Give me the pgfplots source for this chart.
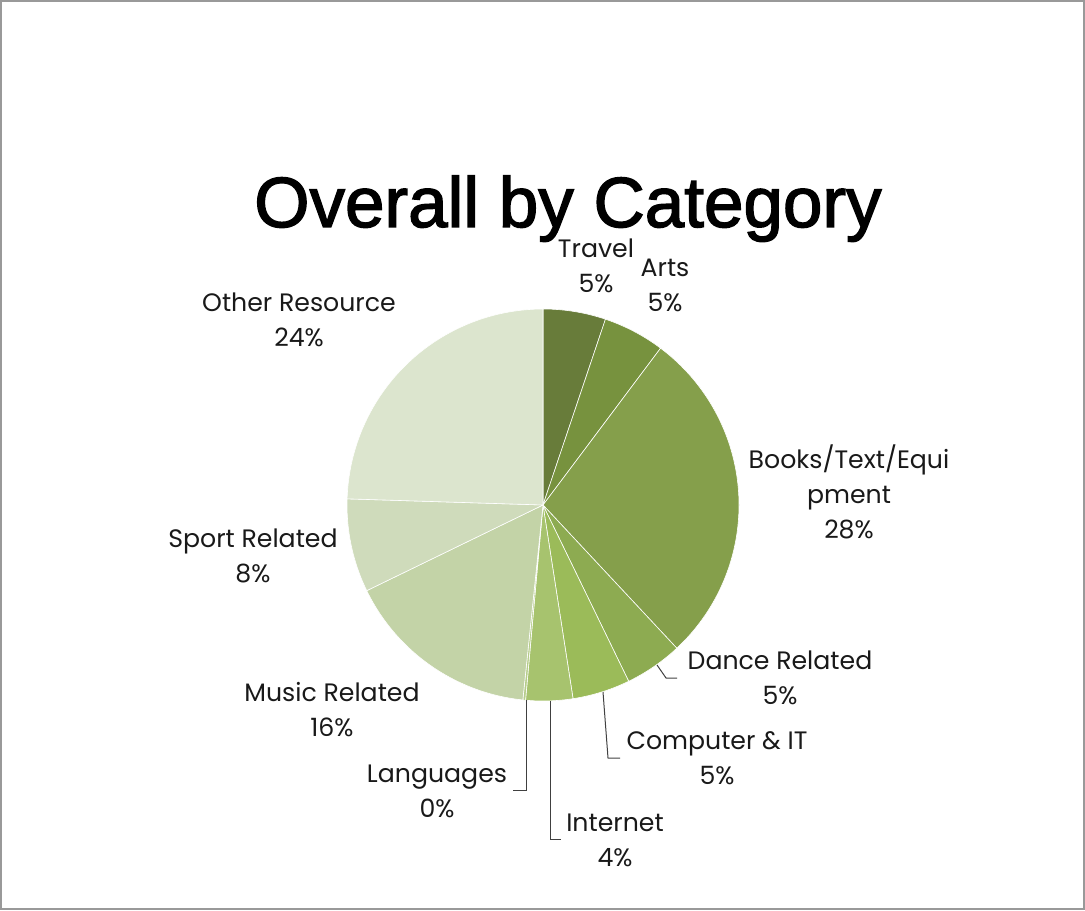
\documentclass[border=0pt]{standalone}
\usepackage{pgfplots}
\pgfplotsset{compat=1.18}
\usepackage{fontspec}
\setmainfont{Poppins}
\newfontfamily\titlefont[FakeBold=2]{Liberation Sans}
\definecolor{cTravel}{HTML}{687C3A}
\definecolor{cArts}{HTML}{77923E}
\definecolor{cBooks}{HTML}{859F4B}
\definecolor{cDance}{HTML}{8DAB51}
\definecolor{cComp}{HTML}{9BBB59}
\definecolor{cInt}{HTML}{A7C36E}
\definecolor{cLang}{HTML}{B5CC8A}
\definecolor{cMusic}{HTML}{C3D3A7}
\definecolor{cSport}{HTML}{CFDBBB}
\definecolor{cOther}{HTML}{DCE5CE}
\definecolor{leader}{HTML}{404040}
% shares of each category (percent)
\def\pTravel{5.16}\def\pArts{5.08}\def\pBooks{27.80}\def\pDance{4.76}
\def\pComp{4.75}\def\pInt{3.87}\def\pLang{0.22}\def\pMusic{16.16}
\def\pSport{7.70}\def\pOther{24.50}
\begin{document}
\begin{tikzpicture}
\useasboundingbox (0,0) rectangle (542.5pt,455pt);
\pgfmathsetmacro\cA{0}
\pgfmathsetmacro\cB{\cA+\pTravel}
\pgfmathsetmacro\cC{\cB+\pArts}
\pgfmathsetmacro\cD{\cC+\pBooks}
\pgfmathsetmacro\cE{\cD+\pDance}
\pgfmathsetmacro\cF{\cE+\pComp}
\pgfmathsetmacro\cG{\cF+\pInt}
\pgfmathsetmacro\cH{\cG+\pLang}
\pgfmathsetmacro\cI{\cH+\pMusic}
\pgfmathsetmacro\cJ{\cI+\pSport}
\pgfmathsetmacro\cK{\cJ+\pOther}
\newcommand\slice[3]{%
  \pgfmathsetmacro\aS{90-3.6*#2}\pgfmathsetmacro\aE{90-3.6*#1}%
  \addplot[fill=#3, draw=white, line width=0.3pt, domain=\aS:\aE, samples=80]
    ({196*cos(x)},{196*sin(x)}) -- (axis cs:0,0) -- cycle;}
\begin{axis}[hide axis, scale only axis, x=0.5pt, y=0.5pt,
  xmin=-543, xmax=542, ymin=-405, ymax=505,
  anchor=origin, at={(271.5pt,202.5pt)}, clip=false]
\slice{\cA}{\cB}{cTravel}
\slice{\cB}{\cC}{cArts}
\slice{\cC}{\cD}{cBooks}
\slice{\cD}{\cE}{cDance}
\slice{\cE}{\cF}{cComp}
\slice{\cF}{\cG}{cInt}
\slice{\cG}{\cH}{cLang}
\slice{\cH}{\cI}{cMusic}
\slice{\cI}{\cJ}{cSport}
\slice{\cJ}{\cK}{cOther}
% leader lines
\draw[leader, line width=0.5pt] (axis cs:114,-160) -- (axis cs:123,-173) -- (axis cs:134,-173);
\draw[leader, line width=0.5pt] (axis cs:60,-187) -- (axis cs:65,-253) -- (axis cs:77,-253);
\draw[leader, line width=0.5pt] (axis cs:7,-196) -- (axis cs:7,-334) -- (axis cs:18,-334);
\draw[leader, line width=0.5pt] (axis cs:-17,-195) -- (axis cs:-17,-285) -- (axis cs:-30,-285);
% title
\node[anchor=base, font=\titlefont\fontsize{35.5}{40}\selectfont] at (axis cs:25,278) {Overall by Category};
% labels
\tikzset{lab/.style={align=center, inner sep=0pt, font=\fontsize{12.6}{17.5}\selectfont, text=black!90}}
\node[lab] at (axis cs:53,239) {Travel\\5\%};
\node[lab] at (axis cs:122,219.5) {Arts\\5\%};
\node[lab] at (axis cs:306,13) {Books/Text/Equi\\pment\\28\%};
\node[lab] at (axis cs:237,-173) {Dance Related\\5\%};
\node[lab] at (axis cs:174,-253.5) {Computer \& IT\\5\%};
\node[lab] at (axis cs:72,-335) {Internet\\4\%};
\node[lab] at (axis cs:-106,-286) {Languages\\0\%};
\node[lab] at (axis cs:-211,-204.5) {Music Related\\16\%};
\node[lab] at (axis cs:-290,-50.5) {Sport Related\\8\%};
\node[lab] at (axis cs:-244,185.5) {Other Resource\\24\%};
\end{axis}
\draw[black!40, line width=0.8pt] (0.4pt,0.4pt) rectangle (542.1pt,454.6pt);
\end{tikzpicture}
\end{document}
